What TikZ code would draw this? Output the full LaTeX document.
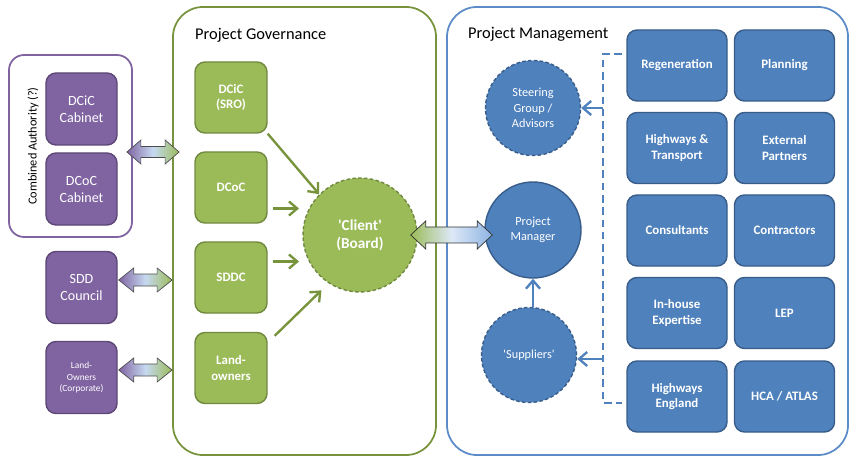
\documentclass[tikz,border=0pt]{standalone}
\usepackage{fontspec}
\setmainfont{Carlito}
\usepackage{tikz}
\usetikzlibrary{shapes,arrows.meta,positioning,calc}

\definecolor{purplefill}{HTML}{8064A2}
\definecolor{purpleline}{HTML}{5C4776}
\definecolor{greenfill}{HTML}{9BBB59}
\definecolor{greenline}{HTML}{71893F}
\definecolor{govline}{HTML}{77933C}
\definecolor{bluefill}{HTML}{4F81BD}
\definecolor{blueline}{HTML}{385D8A}
\definecolor{mgmtline}{HTML}{5B8CC8}
\definecolor{lightblue}{HTML}{C6D9F1}
\definecolor{paleblue}{HTML}{8DB3E2}

\tikzset{
  groupbox/.style={line width=1.5pt, fill=white},
  purplebox/.style={draw=purpleline, line width=1.2pt, fill=purplefill, rounded corners=0.3cm,
    minimum width=2.13cm, minimum height=2.16cm, inner sep=1pt, align=center, text=white,
    font=\fontsize{12}{14.5}\selectfont},
  greenbox/.style={draw=greenline, line width=1.2pt, fill=greenfill, rounded corners=0.3cm,
    minimum width=2.16cm, minimum height=2.13cm, inner sep=1pt, align=center, text=white,
    font=\bfseries\fontsize{11}{13.5}\selectfont},
  bluebox/.style={draw=blueline, line width=1.2pt, fill=bluefill, rounded corners=0.3cm,
    minimum width=3cm, minimum height=2.13cm, inner sep=1pt, align=center, text=white,
    font=\bfseries\fontsize{11}{13.5}\selectfont},
  bluecircle/.style={circle, draw=blueline, line width=1.2pt, fill=bluefill, minimum size=2.85cm,
    inner sep=1pt, align=center, text=white, font=\fontsize{10.5}{13}\selectfont},
  garrow/.style={->, draw=govline, line width=2pt},
  barrow/.style={->, draw=bluefill, line width=2pt},
  title/.style={anchor=west, inner sep=0pt, font=\fontsize{14}{16}\selectfont},
}

% fat double arrow between two points: style, from, to, half shaft, half head, head length
\newcommand{\fatlink}[6]{%
  \path[#1] let \p1=(#2), \p2=(#3) in
    (\x1,\y1) -- ($(\x1,\y1)+(#6,#5)$) -- ($(\x1,\y1)+(#6,#4)$)
    -- ($(\x2,\y1)+(-#6,#4)$) -- ($(\x2,\y1)+(-#6,#5)$) -- (\x2,\y1)
    -- ($(\x2,\y1)+(-#6,-#5)$) -- ($(\x2,\y1)+(-#6,-#4)$)
    -- ($(\x1,\y1)+(#6,-#4)$) -- ($(\x1,\y1)+(#6,-#5)$) -- cycle;}

\begin{document}
\begin{tikzpicture}[x=0.03cm, y=-0.03cm, >={Straight Barb[length=7pt,width=12pt]}]
  \useasboundingbox (0,0) rectangle (851,458);

  % Groups
  \node[groupbox, draw=purplefill, minimum width=3.69cm, minimum height=5.46cm, rounded corners=0.45cm] (ca) at (70.5,146) {};
  \node[rotate=90, inner sep=0pt, font=\fontsize{10.5}{12}\selectfont] (calabel) at (33,146) {Combined Authority (?)};
  \node[groupbox, draw=govline, minimum width=7.89cm, minimum height=13.44cm, rounded corners=0.9cm] (gov) at (304.5,231) {};
  \node[title] (govtitle) at (195,35) {Project Governance};
  \node[groupbox, draw=mgmtline, minimum width=12.03cm, minimum height=13.44cm, rounded corners=0.9cm] (mgmt) at (647.5,231) {};
  \node[title] (mgmttitle) at (468,34) {Project Management};

  % Councils
  \node[purplebox] (dcicab) at (81.5,109) {DCiC\\Cabinet};
  \node[purplebox] (dcocab) at (81.5,189) {DCoC\\Cabinet};
  \node[purplebox] (sdd) at (81.5,287.5) {SDD\\Council};
  \node[purplebox, font=\fontsize{8}{10}\selectfont] (lo) at (81.5,377.5) {Land-\\Owners\\(Corporate)};

  % Governance
  \node[greenbox] (dcic) at (231,97.5) {DCiC\\(SRO)};
  \node[greenbox] (dcoc) at (231,187.5) {DCoC};
  \node[greenbox] (sddc) at (231,277.5) {SDDC};
  \node[greenbox] (land) at (231,368) {Land-\\owners};
  \node[circle, draw=greenline, dash pattern=on 3pt off 2pt, line width=1.2pt, fill=greenfill,
    minimum size=3.42cm, align=center, text=white, font=\bfseries\fontsize{13}{15.5}\selectfont]
    (client) at (360,235) {\textquotesingle Client\textquotesingle\\(Board)};

  \draw[garrow] (dcic.south east) -- (client.135);
  \draw[garrow] ($(dcoc.east)+(5,21)$) coordinate (dcocout) -- ([xshift=-0.1cm]dcocout -| client.west);
  \draw[garrow] ($(sddc.east)+(5,-16)$) coordinate (sddcout) -- ([xshift=-0.1cm]sddcout -| client.west);
  \draw[garrow, shorten >=0.3cm] ($(land.north east)+(7,4)$) -- (client.237);

  % Management
  \node[bluecircle, dash pattern=on 3pt off 2pt] (sg) at (533,108) {Steering\\Group /\\Advisors};
  \node[bluecircle, minimum size=2.88cm] (pm) at (533,230) {Project\\Manager};
  \node[bluecircle, dash pattern=on 3pt off 2pt] (sup) at (529,355) {\textquotesingle Suppliers\textquotesingle};
  \draw[barrow] (pm.south |- sup.north) -- (pm.south);

  \node[bluebox] (regen) at (677,65.5) {Regeneration};
  \node[bluebox] (plan) at (784.5,65.5) {Planning};
  \node[bluebox] (hwy) at (677,148) {Highways \&\\Transport};
  \node[bluebox] (ext) at (784.5,148) {External\\Partners};
  \node[bluebox] (cons) at (677,230.5) {Consultants};
  \node[bluebox] (contr) at (784.5,230.5) {Contractors};
  \node[bluebox] (inh) at (677,313) {In-house\\Expertise};
  \node[bluebox] (lep) at (784.5,313) {LEP};
  \node[bluebox] (he) at (677,396.5) {Highways\\England};
  \node[bluebox] (hca) at (784.5,396.5) {HCA / ATLAS};

  % Dashed bracket
  \coordinate (brtop) at (622,54);
  \coordinate (brbot) at (622,403);
  \coordinate (brx) at (603,0);
  \draw[draw=bluefill, line width=1.8pt, dash pattern=on 6.5pt off 4pt] (brtop) -- ++(-19,0) |- (brbot);
  \draw[barrow] (brx |- sg.east) -- (sg.east);
  \draw[barrow] ($(brx |- sup.east)+(0,4)$) coordinate (supin) -- (supin -| sup.east);

  % Fat links
  \fatlink{draw=black!70, line width=0.6pt, left color=purplefill, right color=greenfill, middle color=lightblue}{$(ca.east)+(-6,6)$}{$(gov.west)+(7,0)$}{5.5}{12}{14}
  \fatlink{draw=black!70, line width=0.6pt, left color=purplefill, right color=greenfill, middle color=lightblue}{$(sdd.east)+(1,-7.5)$}{gov.west}{6}{12}{15}
  \fatlink{draw=black!70, line width=0.6pt, left color=purplefill, right color=greenfill, middle color=lightblue}{$(lo.east)+(1,-7.5)$}{gov.west}{6}{12}{15}
  \fatlink{draw=black!80, line width=0.6pt, left color=greenfill, right color=paleblue, middle color=lightblue!60!white}{$(client.east)+(-7,0)$}{$(pm.west)+(8,0)$}{8}{14}{15}
\end{tikzpicture}
\end{document}
